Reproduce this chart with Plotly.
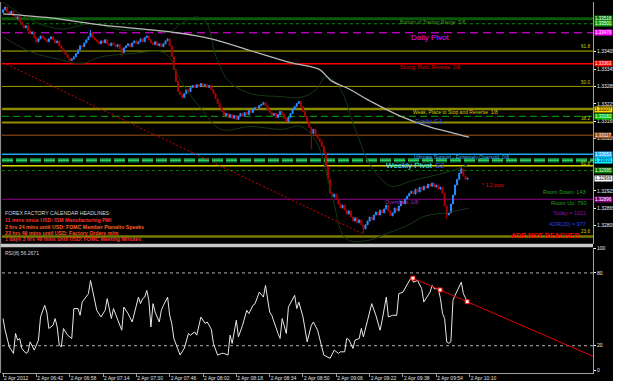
import plotly.graph_objects as go

# ---------------- data ----------------
time_labels = ["2 Apr 2012", "2 Apr 06:42", "2 Apr 06:58", "2 Apr 07:14", "2 Apr 07:30",
               "2 Apr 07:46", "2 Apr 08:02", "2 Apr 08:18", "2 Apr 08:34", "2 Apr 08:50",
               "2 Apr 09:06", "2 Apr 09:22", "2 Apr 09:38", "2 Apr 09:54", "2 Apr 10:10"]
time_label_bars = [0, 16, 32, 48, 64, 80, 96, 112, 128, 144, 160, 176, 192, 208, 224]

first_open = 1.33540
closes = [
    1.33549, 1.33559, 1.33542, 1.33535, 1.33545, 1.33528, 1.33518, 1.33525, 1.33507, 1.33497,
    1.33487, 1.33494, 1.33477, 1.33466, 1.33473, 1.33453, 1.33439, 1.33449, 1.33459, 1.33453,
    1.33446, 1.33439, 1.33449, 1.33456, 1.33446, 1.33435, 1.33442, 1.33425, 1.33415, 1.33404,
    1.33394, 1.33384, 1.33374, 1.33380, 1.33387, 1.33398, 1.33411, 1.33425, 1.33422, 1.33435,
    1.33446, 1.33456, 1.33470, 1.33453, 1.33446, 1.33439, 1.33432, 1.33442, 1.33435, 1.33446,
    1.33432, 1.33425, 1.33435, 1.33429, 1.33422, 1.33429, 1.33415, 1.33401, 1.33418, 1.33425,
    1.33432, 1.33422, 1.33435, 1.33442, 1.33432, 1.33439, 1.33449, 1.33439, 1.33453, 1.33459,
    1.33446, 1.33435, 1.33429, 1.33439, 1.33425, 1.33432, 1.33422, 1.33432, 1.33442, 1.33449,
    1.33425, 1.33387, 1.33343, 1.33302, 1.33267, 1.33257, 1.33247, 1.33260, 1.33274, 1.33267,
    1.33281, 1.33288, 1.33281, 1.33291, 1.33284, 1.33295, 1.33288, 1.33291, 1.33281, 1.33288,
    1.33274, 1.33260, 1.33243, 1.33226, 1.33212, 1.33199, 1.33185, 1.33192, 1.33178, 1.33188,
    1.33175, 1.33185, 1.33171, 1.33182, 1.33192, 1.33182, 1.33195, 1.33188, 1.33202, 1.33195,
    1.33206, 1.33212, 1.33209, 1.33219, 1.33223, 1.33230, 1.33219, 1.33206, 1.33195, 1.33185,
    1.33192, 1.33178, 1.33188, 1.33199, 1.33188, 1.33175, 1.33164, 1.33178, 1.33192, 1.33206,
    1.33216, 1.33226, 1.33233, 1.33216, 1.33199, 1.33182, 1.33164, 1.33144, 1.33123, 1.33137,
    1.33120, 1.33106, 1.33096, 1.33079, 1.33055, 1.33010, 1.32965, 1.32917, 1.32904, 1.32914,
    1.32897, 1.32880, 1.32866, 1.32876, 1.32859, 1.32845, 1.32856, 1.32835, 1.32821, 1.32832,
    1.32815, 1.32825, 1.32808, 1.32794, 1.32808, 1.32821, 1.32835, 1.32825, 1.32842, 1.32852,
    1.32842, 1.32859, 1.32849, 1.32863, 1.32876, 1.32856, 1.32839, 1.32849, 1.32866, 1.32856,
    1.32873, 1.32890, 1.32880, 1.32897, 1.32907, 1.32917, 1.32924, 1.32914, 1.32931, 1.32921,
    1.32938, 1.32928, 1.32941, 1.32935, 1.32948, 1.32941, 1.32952, 1.32938, 1.32945, 1.32931,
    1.32938, 1.32917, 1.32873, 1.32842, 1.32849, 1.32880, 1.32911, 1.32945, 1.32965, 1.32986,
    1.33000, 1.32976, 1.32965, 1.32969,
]
high_wicks = {42: 1.33480, 147: 1.33158, 220: 1.33007}
low_wicks = {57: 1.33387, 148: 1.33068, 173: 1.32777, 213: 1.32828}

# long moving average (grey) read at a few bars
ma_bars = [0, 23, 47, 71, 83.5, 100, 119, 138, 152, 157.5, 165.6, 176.7, 191, 205.5, 215, 223.7]
ma_vals = [1.33535, 1.33521, 1.33497, 1.33480, 1.33470, 1.33449, 1.33408, 1.33367, 1.33343,
           1.33305, 1.33278, 1.33233, 1.33182, 1.33144, 1.33127, 1.33110]

# bollinger bands (dim green)
bb_up_bars = [0, 13.4, 27.8, 42.2, 56.6, 71, 79.7, 85.5, 92.7, 97.5, 102.3, 108.5, 119, 133.5, 143,
              150.3, 155, 161.3, 169.5, 176.7, 186.3, 195.9, 205.5, 215, 223.7]
bb_up_vals = [1.33576, 1.33514, 1.33483, 1.33501, 1.33480, 1.33480, 1.33473, 1.33501, 1.33525,
              1.33507, 1.33387, 1.33302, 1.33260, 1.33250, 1.33247, 1.33274, 1.33319, 1.33284,
              1.33130, 1.33010, 1.32941, 1.32959, 1.32976, 1.32993, 1.33017]
bb_lo_bars = [0, 13.4, 27.8, 37.4, 47, 61.4, 75.9, 79.7, 85.5, 95, 104.7, 119, 133.5, 143, 150.3,
              157.5, 164.7, 174.3, 183.9, 193.5, 203, 212.7, 223.7]
bb_lo_vals = [1.33456, 1.33404, 1.33377, 1.33363, 1.33387, 1.33398, 1.33404, 1.33387, 1.33302,
              1.33209, 1.33137, 1.33147, 1.33137, 1.33147, 1.33096, 1.32924, 1.32760, 1.32753,
              1.32777, 1.32804, 1.32839, 1.32849, 1.32866]

# price trend line (red dotted)
trend_bars = [0, 172.8]
trend_vals = [1.33367, 1.32777]

# RSI(8)
rsi_bars = [0, 1, 3, 5, 6, 7, 8, 9, 11, 12,
            13, 15, 17, 18, 20, 21, 22, 24, 25, 26,
            27, 28, 29, 31, 33, 34, 36, 37, 38, 40,
            41, 42, 43, 44, 45, 47, 49, 50, 51, 52,
            53, 55, 57, 58, 60, 62, 65, 66, 67, 68,
            69, 70, 71, 72, 73, 75, 76, 77, 79, 80,
            81, 82, 84, 85, 87, 89, 90, 92, 93, 95,
            97, 98, 100, 101, 103, 105, 106, 108, 109, 110,
            112, 113, 115, 117, 118, 120, 121, 123, 125, 126,
            128, 129, 132, 133, 134, 136, 137, 140, 141, 142,
            144, 146, 148, 149, 151, 153, 154, 157, 159, 161,
            162, 164, 165, 166, 168, 169, 171, 172, 173, 175,
            177, 179, 181, 182, 184, 185, 187, 189, 190, 192,
            193, 195, 196, 197, 199, 201, 202, 203, 205, 206,
            207, 209, 210, 211, 212, 213, 214, 215, 216, 217,
            218, 220, 221, 222, 223]
rsi_vals = [42.4, 32.8, 19.1, 13.7, 30.1, 24.6, 26.0, 17.8, 13.7, 15.0,
            23.2, 16.4, 24.6, 43.7, 53.3, 47.8, 34.2, 36.9, 42.4, 35.5,
            20.5, 19.1, 34.2, 28.7, 26.0, 50.6, 50.6, 45.1, 56.0, 60.1,
            62.9, 73.8, 65.6, 60.1, 49.2, 43.7, 49.2, 58.8, 50.6, 42.4,
            50.6, 42.4, 32.8, 51.9, 46.5, 39.6, 60.1, 54.7, 58.8, 60.1,
            65.6, 57.4, 35.5, 54.7, 47.8, 39.6, 49.2, 53.3, 60.1, 45.1,
            38.3, 26.0, 16.4, 12.3, 17.8, 30.1, 28.7, 31.4, 28.7, 43.7,
            38.3, 39.6, 33.6, 21.9, 12.3, 13.7, 13.7, 12.3, 28.7, 21.9,
            41.0, 27.3, 36.9, 49.2, 46.5, 53.3, 54.7, 64.2, 60.1, 69.7,
            47.8, 45.1, 30.1, 26.0, 42.4, 30.1, 51.9, 61.5, 50.6, 56.0,
            43.7, 23.2, 36.9, 39.6, 32.8, 20.5, 12.3, 9.6, 16.4, 13.7,
            15.0, 15.0, 26.0, 25.2, 17.8, 24.6, 26.0, 34.2, 27.3, 41.0,
            54.7, 45.1, 32.8, 41.0, 60.1, 43.7, 45.1, 45.1, 62.9, 64.2,
            67.0, 73.8, 76.5, 72.4, 73.8, 67.0, 56.0, 58.8, 64.2, 69.7,
            67.0, 67.0, 58.8, 46.5, 42.4, 23.2, 22.0, 23.2, 57.4, 61.5,
            65.6, 72.4, 62.9, 58.8, 56.0]
rsi_trend_bars = [196.8, 283.7]
rsi_trend_vals = [75.7, 10.9]
rsi_marker_bars = [196.8, 209.8, 222.8]
rsi_marker_vals = [75.7, 66.0, 56.3]

# horizontal levels
level_prices = [1.33518, 1.33501, 1.33470, 1.33407, 1.33363, 1.33285, 1.33207, 1.33182,
                1.33161, 1.33117, 1.33051, 1.33031, 1.33012, 1.32995, 1.32896, 1.32768]
level_colors = ['#0b5a0b', '#0a8a0a', '#ff00ff', '#b8b800', '#ff0000', '#9a9a00', '#8a8a00',
                '#00b000', '#8f8f00', '#a0521d', '#1aa8ff', '#0d7a3a', '#d8d800', '#008000',
                '#8a008a', '#7a7a00']
level_widths = [3, 1, 1, 1, 1.5, 1, 2.5, 1, 2, 1, 1.5, 4.5, 1.5, 1, 1, 2.5]
level_dashes = ['solid', 'dot', '8px,5px', 'solid', 'solid', 'solid', 'solid', '7px,4px',
                'solid', 'solid', 'solid', '11px,3px', 'solid', 'dot', 'solid', 'solid']

# coloured price boxes on the price scale
box_prices = [1.33518, 1.33501, 1.33470, 1.33363, 1.33207, 1.33182, 1.33117, 1.33051,
              1.33031, 1.32995, 1.32969, 1.32896]
box_bg = ['#0b7a0b', '#12a012', '#ff00ff', '#ff0000', '#ffd700', '#00c000', '#a0521d',
          '#1ab0ff', '#00ffff', '#008000', '#ffffff', '#800080']
box_fg = ['#ffffff', '#ffffff', '#ffffff', '#ffffff', '#000000', '#ffffff', '#ffffff',
          '#ffffff', '#000080', '#ffffff', '#000000', '#ffffff']

# price-scale labels that are not covered by the coloured boxes
price_ticks = [1.33405, 1.33345, 1.33285, 1.33225, 1.33165, 1.33105,
               1.32925, 1.32865, 1.32805]
rsi_ticks = [0, 20, 80, 100]

headlines = ["FOREX FACTORY CALENDAR HEADLINES:",
             "11 mins since USD: ISM Manufacturing PMI",
             "2 hrs 24 mins until USD: FOMC Member Pianalto Speaks",
             "23 hrs 49 mins until USD: Factory Orders m/m",
             "1 days 3 hrs 49 mins until USD: FOMC Meeting Minutes"]
headline_colors = ['#d8d8d8', '#ff3030', '#ff6020', '#ff5020', '#ff3030']

# ---------------- derived candles ----------------
bars = list(range(len(closes)))
opens = [first_open] + closes[:-1]
highs = [high_wicks.get(i, max(o, c)) for i, (o, c) in enumerate(zip(opens, closes))]
lows = [low_wicks.get(i, min(o, c)) for i, (o, c) in enumerate(zip(opens, closes))]

# ---------------- figure ----------------
W, H = 625, 381
ML, MR, MT, MB = 2, 32, 0, 8
PW, PH = W - ML - MR, H - MT - MB


def X(px):
    return (px - ML) / PW


def Y(py):
    return (PH + MT - py) / PH


FONT = "Liberation Sans"
fig = go.Figure()

fig.add_trace(go.Scatter(x=bb_up_bars, y=bb_up_vals, mode='lines', line_shape='spline',
                         line=dict(color='#163816', width=1), hoverinfo='skip'))
fig.add_trace(go.Scatter(x=bb_lo_bars, y=bb_lo_vals, mode='lines', line_shape='spline',
                         line=dict(color='#163816', width=1), hoverinfo='skip'))
fig.add_trace(go.Scatter(x=ma_bars, y=ma_vals, mode='lines', line_shape='spline',
                         line=dict(color='#b8b8b8', width=1.3), hoverinfo='skip'))
fig.add_trace(go.Scatter(x=trend_bars, y=trend_vals, mode='lines',
                         line=dict(color='#d00000', width=1, dash='2px,2px'), hoverinfo='skip'))
fig.add_trace(go.Candlestick(
    x=bars, open=opens, high=highs, low=lows, close=closes,
    increasing=dict(line=dict(color='#2a8cff', width=1), fillcolor='#2a8cff'),
    decreasing=dict(line=dict(color='#b00000', width=1), fillcolor='#b00000'),
    whiskerwidth=0))

fig.add_trace(go.Scatter(x=rsi_bars, y=rsi_vals, mode='lines', yaxis='y2',
                         line=dict(color='#e8e8e8', width=1)))
fig.add_trace(go.Scatter(x=rsi_trend_bars, y=rsi_trend_vals, mode='lines', yaxis='y2',
                         line=dict(color='#e00000', width=1)))
fig.add_trace(go.Scatter(x=rsi_marker_bars, y=rsi_marker_vals, mode='markers', yaxis='y2',
                         marker=dict(symbol='square', size=4, color='#ffffff',
                                     line=dict(color='#ff0000', width=1))))

shapes = []
for p, c, w, d in zip(level_prices, level_colors, level_widths, level_dashes):
    shapes.append(dict(type='line', xref='paper', x0=0, x1=1, yref='y', y0=p, y1=p,
                       line=dict(color=c, width=w, dash=d), layer='below'))
# bright inner stripe of the weekly pivot dashes
shapes.append(dict(type='line', xref='paper', x0=0, x1=1, yref='y', y0=level_prices[11],
                   y1=level_prices[11], line=dict(color='#2ed060', width=1.5, dash='11px,3px'),
                   layer='below'))
for v in [20, 80]:
    shapes.append(dict(type='line', xref='paper', x0=0, x1=1, yref='y2', y0=v, y1=v,
                       line=dict(color='#b0b0b0', width=1, dash='dot'), layer='below'))
# panel separator, frame, white strip
shapes.append(dict(type='rect', xref='paper', x0=X(0), x1=X(593), yref='paper',
                   y0=Y(246.5), y1=Y(243), fillcolor='#c8c8c8', line_width=0))
shapes.append(dict(type='line', xref='paper', x0=X(0.6), x1=X(0.6), yref='paper', y0=Y(373), y1=1,
                   line=dict(color='#9a9a9a', width=1)))
shapes.append(dict(type='rect', xref='paper', x0=X(613), x1=X(626), yref='paper', y0=Y(382), y1=1.01,
                   fillcolor='#ffffff', line_width=0))

ann = []


def text(px, py, s, color, size=5, anchor='left', bold=False):
    ann.append(dict(x=X(px), y=Y(py), xref='paper', yref='paper', text=('<b>%s</b>' % s) if bold else s,
                    showarrow=False, xanchor=anchor, yanchor='middle',
                    font=dict(family=FONT, size=size, color=color)))


for i, (s, c) in enumerate(zip(headlines, headline_colors)):
    text(3, [212, 219.5, 225.8, 232, 238][i], s, c, size=5.2, bold=(i > 0))

text(398, 20.5, "Bottom of Trading Range  5/8", '#4a9a28')
text(398, 65, "Strong, Pivot, Reverse  2/8", '#e00000')
text(411, 110.5, "Weak, Place to Stop and Reverse  1/8", '#d0d000')
text(412, 156, "Ultimate Support - Extremely Oversold  0/8", '#40b0f0')
text(383, 201, "Overshoot -1/8", '#a030c0')
text(409, 36, "Daily Pivot", '#ff00ff', size=8)
text(413, 120, "Daily S1", '#2848d0', size=7.5)
text(384, 164.5, "Weekly Pivot", '#30ffff', size=8)
text(433, 164.5, "S2", '#2050ff', size=8)
for py, s in [(45, "61.8"), (81, "50.0"), (117, "38.2"), (162, "61.8"), (231, "23.6")]:
    text(592, py, s, '#d0d000', size=4.6, anchor='right')
text(480, 184, "* 1.2 pips", '#e01010', size=5.2)
text(588, 191, "Room Down: 143", '#22a022', size=5.5, anchor='right')
text(588, 202, "Room Up: 790", '#22a022', size=5.5, anchor='right')
text(588, 212, "Today = 1021", '#9010b0', size=5.5, anchor='right')
text(588, 223, "ADR(20) = 977", '#2040ff', size=5.5, anchor='right')
text(581, 234.5, "ADR NOT REACHED", '#ff0000', size=7, anchor='right', bold=True)
text(3, 252.5, "RSI(8) 56.2671", '#d8d8d8', size=5)

for p, bg, fg in zip(box_prices, box_bg, box_fg):
    ann.append(dict(x=1, y=p, xref='paper', yref='y', text='%.5f' % p, showarrow=False,
                    xanchor='left', yanchor='middle', xshift=1, bgcolor=bg, borderpad=0,
                    font=dict(family=FONT, size=4.5, color=fg)))

fig.update_layout(
    width=W, height=H, margin=dict(l=ML, r=MR, t=MT, b=MB, pad=0),
    paper_bgcolor='#000000', plot_bgcolor='#000000', showlegend=False,
    shapes=shapes, annotations=ann,
    xaxis=dict(range=[-0.5, -0.5 + PW / 2.083], anchor='y2', showgrid=False, zeroline=False,
               rangeslider=dict(visible=False), tickmode='array', tickvals=time_label_bars,
               ticktext=time_labels, ticks='outside', ticklen=3, tickcolor='#a0a0a0',
               tickangle=0, ticklabelposition='outside right', showline=True, linecolor='#a0a0a0',
               tickfont=dict(family=FONT, size=5, color='#e0e0e0')),
    yaxis=dict(domain=[Y(243), 1], range=[1.32743, 1.33576], side='right', showgrid=False,
               zeroline=False, tickmode='array', tickvals=price_ticks,
               ticktext=['%.5f' % v for v in price_ticks], ticks='outside', ticklen=2,
               tickcolor='#ffffff', showline=True, linecolor='#a0a0a0',
               tickfont=dict(family=FONT, size=5, color='#f0f0f0')),
    yaxis2=dict(domain=[0, Y(247)], range=[-2.46, 100.82], side='right', showgrid=False,
                zeroline=False, tickmode='array', tickvals=rsi_ticks, ticks='outside', ticklen=2,
                tickcolor='#ffffff', showline=True, linecolor='#a0a0a0',
                tickfont=dict(family=FONT, size=5, color='#f0f0f0')),
)

fig.write_html("out.html")
